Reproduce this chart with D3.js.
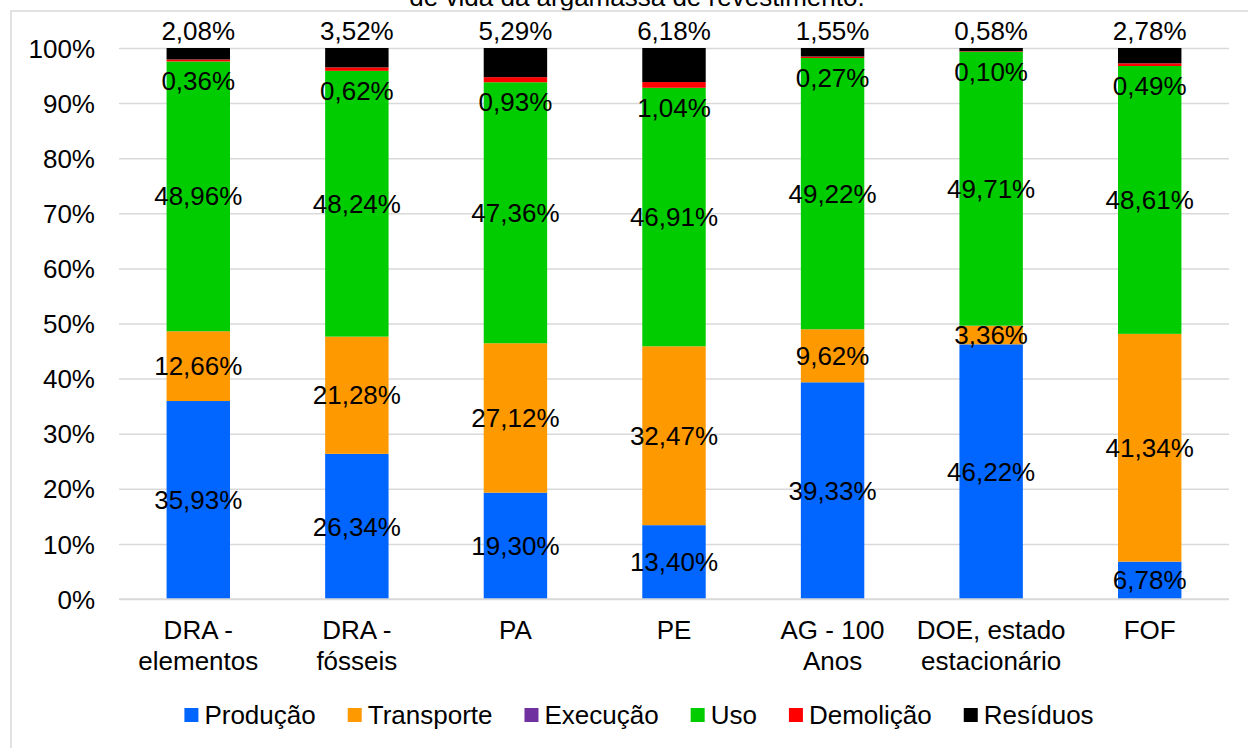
<!DOCTYPE html>
<html>
<head>
<meta charset="utf-8">
<script src="https://cdn.jsdelivr.net/npm/d3@7"></script>
<style>
  html, body { margin: 0; padding: 0; background: #fff; }
  svg text { font-family: "Liberation Sans", Arial, sans-serif; fill: #000; }
</style>
</head>
<body>
<svg id="chart" width="1248" height="748"></svg>
<script>
// Share of each life-cycle stage (%) per assessment method
const categories = [
  ["DRA -", "elementos"],
  ["DRA -", "fósseis"],
  ["PA"],
  ["PE"],
  ["AG - 100", "Anos"],
  ["DOE, estado", "estacionário"],
  ["FOF"]
];
const stages = ["Produção", "Transporte", "Execução", "Uso", "Demolição", "Resíduos"];
const producao   = [35.93, 26.34, 19.30, 13.40, 39.33, 46.22, 6.78];
const transporte = [12.66, 21.28, 27.12, 32.47, 9.62, 3.36, 41.34];
const execucao   = [0.01, 0.00, 0.00, 0.00, 0.01, 0.03, 0.00];
const uso        = [48.96, 48.24, 47.36, 46.91, 49.22, 49.71, 48.61];
const demolicao  = [0.36, 0.62, 0.93, 1.04, 0.27, 0.10, 0.49];
const residuos   = [2.08, 3.52, 5.29, 6.18, 1.55, 0.58, 2.78];
const yTicks = [0, 10, 20, 30, 40, 50, 60, 70, 80, 90, 100];
const title = "de vida da argamassa de revestimento.";

const colors = ["#0066ff", "#ff9900", "#7030a0", "#00cc00", "#ff0000", "#000000"];
const seriesValues = [producao, transporte, execucao, uso, demolicao, residuos];
const FS = "26px";

const rows = categories.map((c, i) => {
  const r = { key: i };
  stages.forEach((s, j) => { r[s] = seriesValues[j][i]; });
  return r;
});
const stacked = d3.stack().keys(stages)(rows);

const svg = d3.select("#chart");
const fmt = v => d3.format(".2f")(v).replace(".", ",") + "%";

const x = d3.scaleBand().domain(d3.range(categories.length)).range([119, 1229]).paddingInner(0.6).paddingOuter(0.3);
const y = d3.scaleLinear().domain([0, 100]).range([599, 48]);

// title (partly above the frame)
svg.append("text")
  .attr("x", 637).attr("y", 6)
  .attr("text-anchor", "middle")
  .style("font-size", FS)
  .text(title);

// chart frame
svg.append("rect")
  .attr("x", 11).attr("y", 11).attr("width", 1300).attr("height", 800)
  .attr("fill", "none").attr("stroke", "#d9d9d9").attr("stroke-width", 1.5);

// gridlines + y tick labels
const yAxis = d3.axisLeft(y).tickValues(yTicks).tickSize(-(1229 - 119)).tickFormat(d => d + "%");
const gy = svg.append("g").attr("transform", "translate(119,0)").call(yAxis);
gy.select(".domain").remove();
gy.selectAll(".tick line").attr("stroke", "#d9d9d9").attr("stroke-width", 1.5);
gy.selectAll(".tick text")
  .attr("x", -24)
  .attr("dy", "0.35em")
  .style("font-size", FS)
  .style("font-family", "Liberation Sans, Arial, sans-serif")
  .attr("fill", "#000");

// stacked bars
const layers = svg.append("g").selectAll("g").data(stacked).join("g")
  .attr("fill", (d, i) => colors[i]);
layers.selectAll("rect").data(d => d).join("rect")
  .attr("x", (d, i) => x(i))
  .attr("width", x.bandwidth())
  .attr("y", d => y(d[1]))
  .attr("height", d => Math.max(0, y(d[0]) - y(d[1])));

// redraw baseline over bars
svg.append("line")
  .attr("x1", 119).attr("x2", 1229).attr("y1", y(0)).attr("y2", y(0))
  .attr("stroke", "#d9d9d9").attr("stroke-width", 1.5);

// value labels
const labels = svg.append("g").style("font-size", FS).attr("text-anchor", "middle");
[0, 1, 3].forEach(k => {
  labels.append("g").selectAll("text").data(stacked[k]).join("text")
    .attr("x", (d, i) => x(i) + x.bandwidth() / 2)
    .attr("y", d => y((d[0] + d[1]) / 2))
    .attr("dy", "0.35em")
    .text((d, i) => fmt(seriesValues[k][i]));
});
// Demolição labels sit just under the top of the green segment
labels.append("g").selectAll("text").data(stacked[4]).join("text")
  .attr("x", (d, i) => x(i) + x.bandwidth() / 2)
  .attr("y", d => y(d[0]) + 29)
  .text((d, i) => fmt(demolicao[i]));
// Resíduos labels above the bars
labels.append("g").selectAll("text").data(stacked[5]).join("text")
  .attr("x", (d, i) => x(i) + x.bandwidth() / 2)
  .attr("y", d => y(d[1]) - 8)
  .text((d, i) => fmt(residuos[i]));

// category labels
const xl = svg.append("g").style("font-size", FS).attr("text-anchor", "middle");
categories.forEach((lines, i) => {
  const t = xl.append("text").attr("x", x(i) + x.bandwidth() / 2).attr("y", 639);
  lines.forEach((ln, j) => {
    t.append("tspan").attr("x", x(i) + x.bandwidth() / 2).attr("dy", j === 0 ? 0 : 31).text(ln);
  });
});

// legend
const legend = svg.append("g");
let cx = 0;
stages.forEach((s, i) => {
  const g = legend.append("g");
  g.append("rect").attr("x", 0).attr("y", -7).attr("width", 14).attr("height", 14).attr("fill", colors[i]);
  const t = g.append("text").attr("x", 20).attr("dy", "0.35em").style("font-size", FS).text(s);
  const w = 20 + t.node().getComputedTextLength();
  g.attr("transform", `translate(${cx},0)`);
  cx += w + 32;
});
const totalW = cx - 32;
legend.attr("transform", `translate(${639 - totalW / 2},715)`);
</script>
</body>
</html>
